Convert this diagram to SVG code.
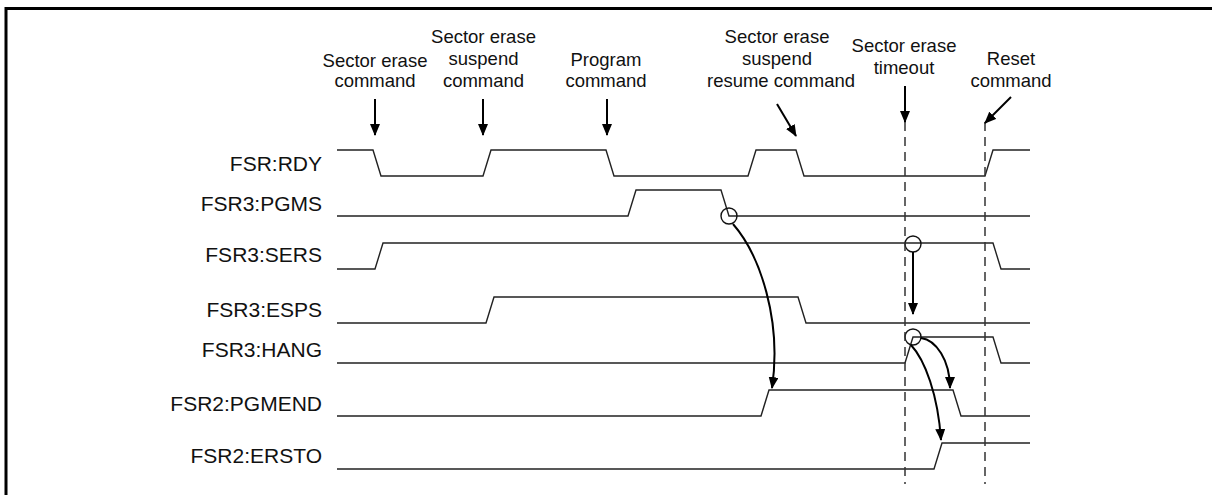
<svg xmlns="http://www.w3.org/2000/svg" width="1212" height="495" viewBox="0 0 1212 495">
<style>
.frame{fill:none;stroke:#000;stroke-width:3}
.wave{fill:none;stroke:#222;stroke-width:1.4;stroke-linejoin:miter}
.lbl{font-family:"Liberation Sans",Arial,sans-serif;font-size:21px;fill:#111;text-anchor:end}
.top{font-family:"Liberation Sans",Arial,sans-serif;font-size:18.5px;fill:#111;text-anchor:middle}
.arr{fill:none;stroke:#000;stroke-width:2}
.dash{fill:none;stroke:#333;stroke-width:1.5;stroke-dasharray:9 6}
.circ{fill:none;stroke:#111;stroke-width:1.4}
</style>
<defs>
<marker id="ah" markerUnits="userSpaceOnUse" markerWidth="12" markerHeight="10" refX="11" refY="5" orient="auto">
<path d="M0,0 L12,5 L0,10 z" fill="#000"/>
</marker>
</defs>
<path class="frame" d="M6,500 V8.5 H1215"/>

<g id="top-labels">
<g id="lbl-sector-erase-cmd"><text class="top" x="375" y="66.5">Sector erase</text><text class="top" x="375" y="87">command</text></g>
<g id="lbl-suspend-cmd"><text class="top" x="483.5" y="43">Sector erase</text><text class="top" x="483.5" y="65">suspend</text><text class="top" x="483.5" y="87">command</text></g>
<g id="lbl-program-cmd"><text class="top" x="606" y="66">Program</text><text class="top" x="606" y="87">command</text></g>
<g id="lbl-resume-cmd"><text class="top" x="777" y="43">Sector erase</text><text class="top" x="777" y="65">suspend</text><text class="top" x="781" y="87">resume command</text></g>
<g id="lbl-timeout"><text class="top" x="904" y="52">Sector erase</text><text class="top" x="904" y="73.5">timeout</text></g>
<g id="lbl-reset"><text class="top" x="1011" y="65">Reset</text><text class="top" x="1011" y="87">command</text></g>
</g>

<g id="signal-labels">
<text class="lbl" x="322" y="171">FSR:RDY</text>
<text class="lbl" x="322" y="211">FSR3:PGMS</text>
<text class="lbl" x="322" y="262">FSR3:SERS</text>
<text class="lbl" x="322" y="317">FSR3:ESPS</text>
<text class="lbl" x="322" y="357">FSR3:HANG</text>
<text class="lbl" x="322" y="411">FSR2:PGMEND</text>
<text class="lbl" x="322" y="463">FSR2:ERSTO</text>
</g>

<g id="waveforms">
<path id="w-rdy" class="wave" d="M337,150 H373 L381,176 H483 L491,150 H606 L614,176 H748 L756,150 H796 L804,176 H985 L993,150 H1030"/>
<path id="w-pgms" class="wave" d="M337,216 H628 L636,190 H721 L729,216 H1030"/>
<path id="w-sers" class="wave" d="M337,269 H375 L383,243 H993 L1001,269 H1030"/>
<path id="w-esps" class="wave" d="M337,323 H486 L494,297 H798 L806,323 H1030"/>
<path id="w-hang" class="wave" d="M337,363 H905 L913,337 H993 L1001,363 H1030"/>
<path id="w-pgmend" class="wave" d="M337,416 H761 L769,390 H953 L961,416 H1030"/>
<path id="w-ersto" class="wave" d="M337,469 H934 L942,443 H1030"/>
</g>

<g id="markers-circles">
<circle class="circ" cx="729" cy="216" r="8"/>
<circle class="circ" cx="913" cy="244" r="8"/>
<circle class="circ" cx="913" cy="337" r="8"/>
</g>

<g id="connectors">
<line class="dash" x1="905" y1="122" x2="905" y2="484"/>
<line class="dash" x1="985" y1="122" x2="985" y2="484"/>
<line class="arr" x1="375" y1="99" x2="375" y2="135" marker-end="url(#ah)"/>
<line class="arr" x1="483" y1="99" x2="483" y2="135" marker-end="url(#ah)"/>
<line class="arr" x1="607" y1="99" x2="607" y2="135" marker-end="url(#ah)"/>
<line class="arr" x1="777" y1="104" x2="796" y2="136" marker-end="url(#ah)"/>
<line class="arr" x1="905" y1="86" x2="905" y2="122" marker-end="url(#ah)"/>
<line class="arr" x1="1011" y1="97" x2="985" y2="123" marker-end="url(#ah)"/>
<path class="arr" d="M733,224 C760,255 782,320 772,388" marker-end="url(#ah)"/>
<line class="arr" x1="913" y1="252" x2="913" y2="314" marker-end="url(#ah)"/>
<path class="arr" d="M921,338 C936,340 950,360 950,388" marker-end="url(#ah)"/>
<path class="arr" d="M911,345 C925,360 938,395 941,440" marker-end="url(#ah)"/>
</g>
</svg>
